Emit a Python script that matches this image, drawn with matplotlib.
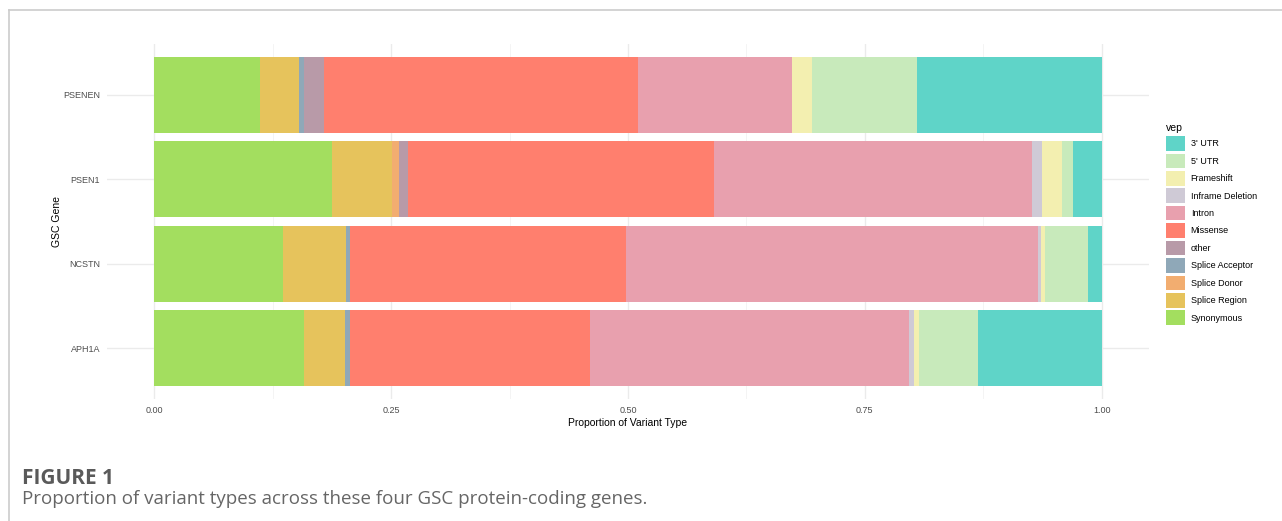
import numpy as np
import matplotlib.pyplot as plt
from matplotlib.patches import Patch
from matplotlib.lines import Line2D
from matplotlib.ticker import MultipleLocator

genes = ["APH1A", "NCSTN", "PSEN1", "PSENEN"]

# stacking order (left to right)
vep_types = ["Synonymous", "Splice Region", "Splice Donor", "Splice Acceptor", "other",
             "Missense", "Intron", "Inframe Deletion", "Frameshift", "5' UTR", "3' UTR"]

# proportions per gene, in the order of vep_types
aph1a = [0.158, 0.043, 0.000, 0.005, 0.000, 0.254, 0.337, 0.005, 0.005, 0.062, 0.131]
ncstn = [0.136, 0.066, 0.000, 0.004, 0.000, 0.292, 0.435, 0.003, 0.004, 0.046, 0.014]
psen1 = [0.188, 0.063, 0.007, 0.000, 0.010, 0.323, 0.336, 0.010, 0.021, 0.012, 0.030]
psenen = [0.112, 0.041, 0.000, 0.005, 0.021, 0.332, 0.162, 0.000, 0.021, 0.111, 0.195]

colors = {
    "3' UTR": "#5fd4c8",
    "5' UTR": "#c8eabb",
    "Frameshift": "#f3efb0",
    "Inframe Deletion": "#cfcad6",
    "Intron": "#e8a0ae",
    "Missense": "#ff7f6e",
    "other": "#b89aa8",
    "Splice Acceptor": "#8fa8b8",
    "Splice Donor": "#f2ad70",
    "Splice Region": "#e6c35c",
    "Synonymous": "#a3de5f",
}

data = np.array([aph1a, ncstn, psen1, psenen])
data = data / data.sum(axis=1, keepdims=True)

fig = plt.figure(figsize=(12.82, 5.21), dpi=100)
ax = fig.add_axes([107/1282, 1 - 399/521, (1149-107)/1282, (399-44)/521])

ypos = np.arange(len(genes))
left = np.zeros(len(genes))
for j, v in enumerate(vep_types):
    ax.barh(ypos, data[:, j], left=left, height=0.9, color=colors[v],
            linewidth=0, zorder=2)
    left += data[:, j]

ax.set_xlim(-0.05, 1.05)
ax.set_ylim(-0.6, len(genes) - 0.4)
ax.set_yticks(ypos)
ax.set_yticklabels(genes)
ax.xaxis.set_major_locator(MultipleLocator(0.25))
ax.xaxis.set_minor_locator(MultipleLocator(0.125))
ax.set_xticks([0, 0.25, 0.5, 0.75, 1.0])
ax.set_xticklabels(["0.00", "0.25", "0.50", "0.75", "1.00"])
ax.grid(True, which="major", color="#ebebeb", linewidth=1.0, zorder=0)
ax.grid(True, which="minor", axis="x", color="#f3f3f3", linewidth=0.6, zorder=0)
ax.set_axisbelow(True)
for s in ax.spines.values():
    s.set_visible(False)
ax.tick_params(axis="both", which="both", length=0, labelsize=6.5,
               labelcolor="#4d4d4d", pad=5, labelfontfamily="Liberation Sans")
ax.set_xlabel("Proportion of Variant Type", fontsize=7.5, family="Liberation Sans", labelpad=2)
ax.set_ylabel("GSC Gene", fontsize=7.5, family="Liberation Sans", labelpad=1)

handles = [Patch(facecolor=colors[v], edgecolor="none") for v in reversed(vep_types)]
leg = fig.legend(handles, list(reversed(vep_types)), loc="upper left",
                 bbox_to_anchor=(1160/1282, 1 - 117/521), frameon=False,
                 title="vep", title_fontsize=7.5,
                 prop={"family": "Liberation Sans", "size": 6.5},
                 handlelength=2.1, handleheight=2.1, labelspacing=0.32,
                 handletextpad=0.6, borderpad=0.2)
leg._legend_box.align = "left"
leg.get_title().set_family("Liberation Sans")

# page frame
fig.add_artist(Line2D([9/1282, 1], [1 - 9.5/521, 1 - 9.5/521], color="#cccccc", linewidth=1.2))
fig.add_artist(Line2D([9/1282, 9/1282], [0, 1 - 9.5/521], color="#cccccc", linewidth=1.2))

fig.text(22/1282, 1 - 478/521, "FIGURE 1", fontsize=15, fontweight="bold",
         family="Open Sans", color="#5a5a5a", va="center", ha="left")
fig.text(22/1282, 1 - 499/521, "Proportion of variant types across these four GSC protein-coding genes.",
         fontsize=13.5, family="Open Sans", color="#666666", va="center", ha="left")

fig.savefig("out.png", dpi=100, facecolor="white")
